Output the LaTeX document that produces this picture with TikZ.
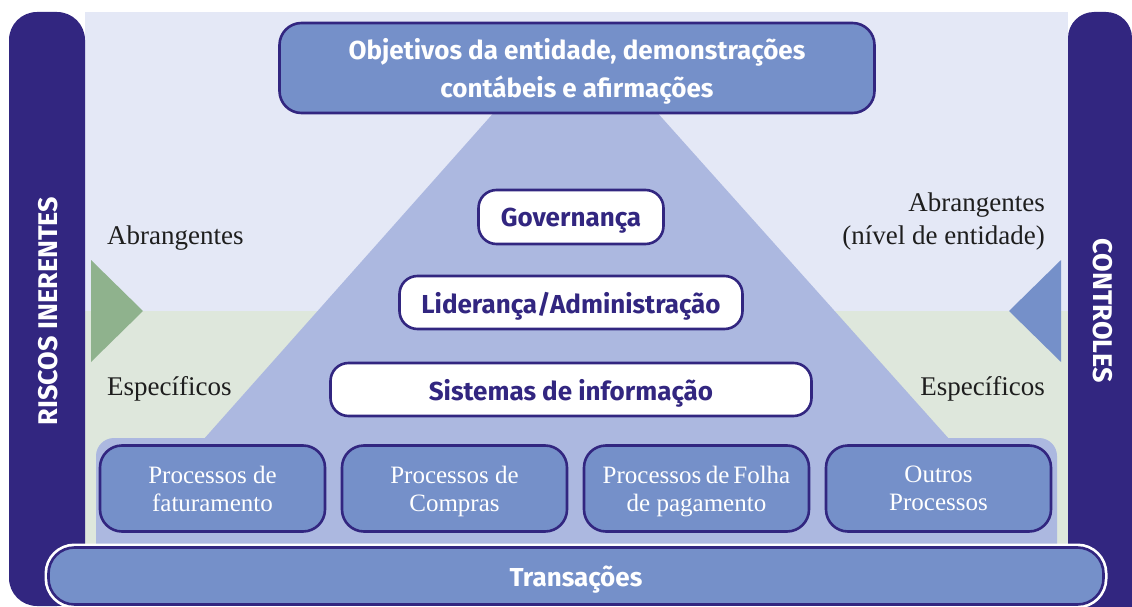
\documentclass[tikz,border=0pt]{standalone}
\usepackage{fontspec}
\setmainfont{Liberation Serif}
\newfontfamily\headfont{Fira Sans}
\usepackage{tikz}
\usetikzlibrary{positioning}
\definecolor{deeppurple}{RGB}{50, 38, 128}
\definecolor{midblue}{RGB}{117, 144, 201}
\definecolor{paleblue}{RGB}{172, 184, 224}
\definecolor{lavender}{RGB}{228, 232, 246}
\definecolor{sage}{RGB}{222, 231, 220}
\definecolor{leafgreen}{RGB}{143, 178, 141}
\definecolor{textgray}{RGB}{30, 30, 30}

\begin{document}
\begin{tikzpicture}[
  x=1pt, y=-1pt,
  node distance=14.4pt,
  tier/.style={rectangle, rounded corners=18pt, draw=deeppurple, line width=2.6pt, fill=white,
               text=deeppurple, inner sep=0pt, text depth=0pt,
               font=\headfont\bfseries\fontsize{26}{30}\selectfont},
  headbox/.style={rectangle, rounded corners=22pt, draw=deeppurple, line width=2.6pt, fill=midblue,
               text=white, align=center, inner sep=0pt, text depth=0pt,
               font=\headfont\bfseries\fontsize{26}{38}\selectfont},
  proc/.style={rectangle, rounded corners=22pt, draw=deeppurple, line width=2.6pt, fill=midblue,
               text=white, minimum width=225pt, minimum height=86pt, align=center, inner sep=0pt,
               text depth=0pt, font=\fontsize{25}{28}\selectfont},
  side/.style={font=\fontsize{27}{33}\selectfont, text=textgray, inner sep=0pt},
  barlabel/.style={text=white, inner sep=0pt, font=\headfont\bfseries\fontsize{27}{30}\selectfont}
]
\useasboundingbox (0,0) rectangle (1132,607);

% background bands
\fill[lavender] (85,12) rectangle (1068,311);
\fill[sage] (85,311) rectangle (1068,580);
\fill[leafgreen] (91,260) -- (143,311) -- (91,362) -- cycle;
\fill[midblue] (1061,260) -- (1009,311) -- (1061,362) -- cycle;

% pyramid and process base
\fill[paleblue] (505,100) -- (646,100) -- (950,440) -- (203,440) -- cycle;
\fill[paleblue, rounded corners=18pt] (96,590) -- (96,438) -- (1057,438) -- (1057,590) -- cycle;

% side bars
\fill[deeppurple, rounded corners=28pt] (9,12) rectangle (85,606);
\fill[deeppurple, rounded corners=26pt] (1068,660) -- (1068,12) -- (1132,12) -- (1132,660) -- cycle;
\node[barlabel, rotate=90] (risk) at (48,311) {RISCOS INERENTES};
\node[barlabel, rotate=-90] (ctrl) at (1103,311) {CONTROLES};

% base bar
\node[headbox, rounded corners=26pt, minimum width=1055pt, minimum height=57pt,
      preaction={draw=white, line width=8pt}] (trans) at (576,576) {Transações};

% top box
\node[headbox, minimum width=595pt, minimum height=90pt] (goal) at (577,68)
  {Objetivos da entidade, demonstrações\\contábeis e afirmações};

% pyramid tiers
\node[tier, minimum width=185pt, minimum height=54pt] (gov) at (571,217) {Governança};
\node[tier, minimum width=343pt, minimum height=53pt, below=29.4pt of gov] (lead) {Liderança/Administração};
\node[tier, minimum width=481pt, minimum height=53pt, below=31.4pt of lead] (info) {Sistemas de informação};

% processes
\node[proc] (bill) at (212.5,488.5) {Processos de\\faturamento};
\node[proc, right=of bill] (buy) {Processos de\\Compras};
\node[proc, right=of buy] (pay) {Processos\hspace{4.5pt}de\hspace{4pt}Folha\\de pagamento};
\node[proc, right=of pay] (other) {Outros\\Processos};

% side texts
\node[side, anchor=base west] (riskwide) at (107,244) {Abrangentes};
\node[side, anchor=base west] (riskspec) at (107,395) {Específicos};
\node[side, anchor=base east] (ctrlwide) at (1045,211) {Abrangentes};
\node[side, anchor=base east] (ctrlent) at (1045,244) {(nível de entidade)};
\node[side, anchor=base east] (ctrlspec) at (1045,395) {Específicos};

\end{tikzpicture}
\end{document}
